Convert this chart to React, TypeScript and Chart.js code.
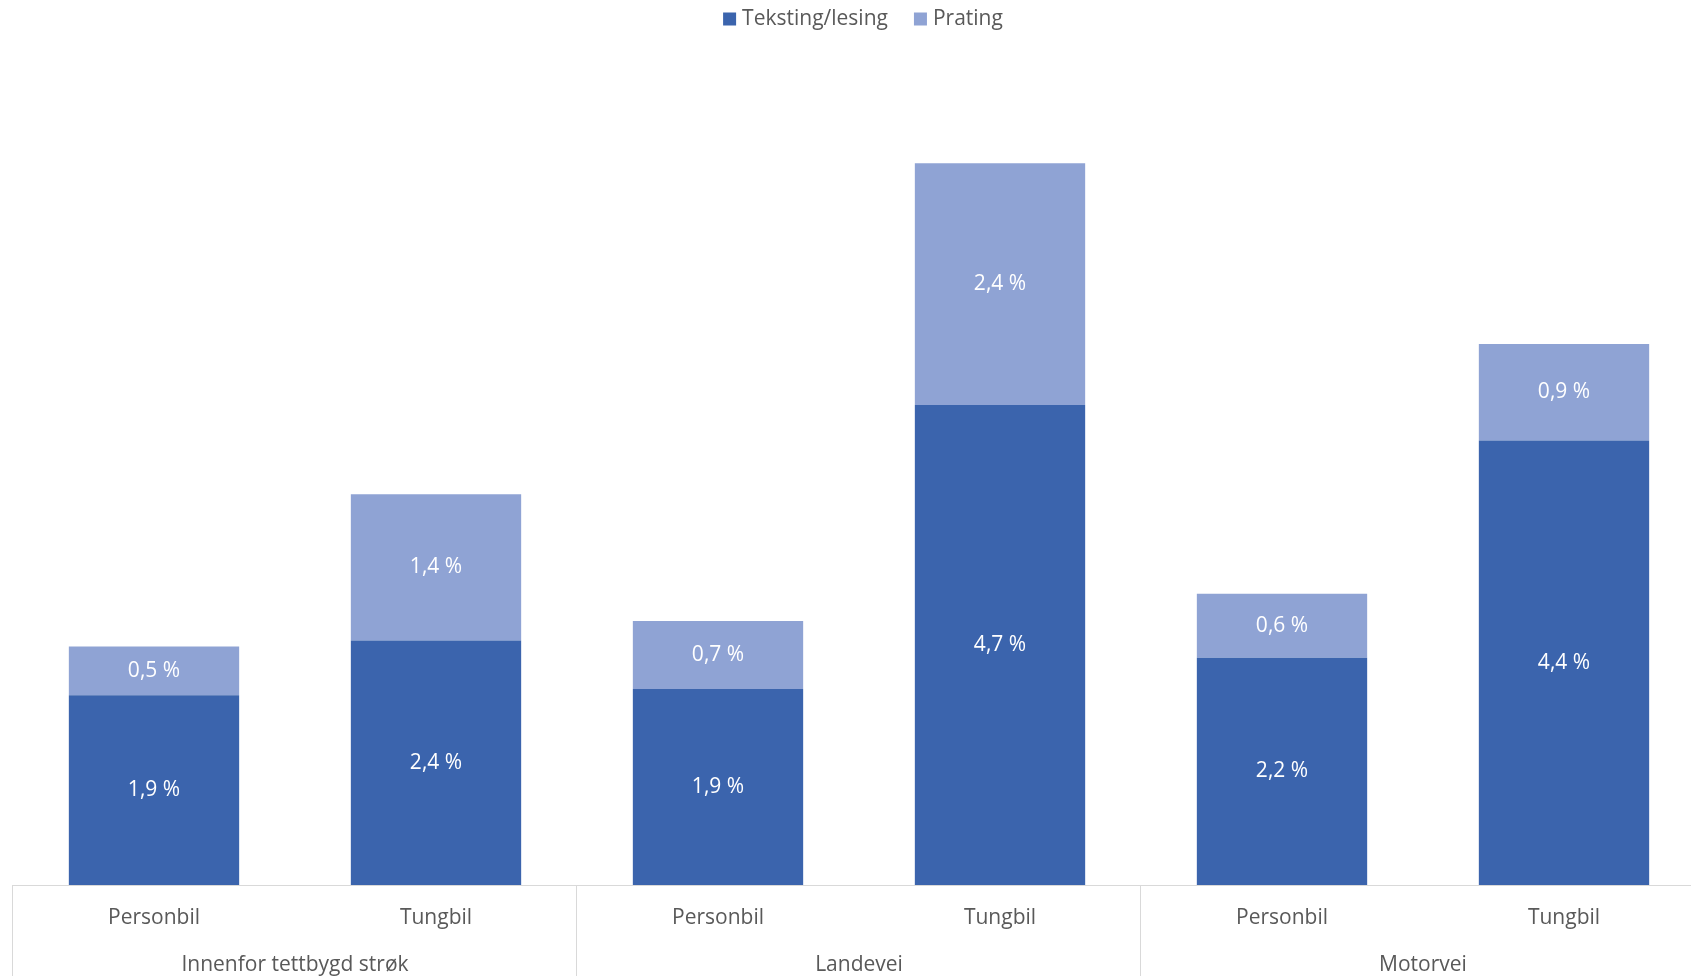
import React, { useEffect, useRef } from "react";
import { Chart, registerables } from "chart.js";

Chart.register(...registerables);

const categories = ["Personbil", "Tungbil", "Personbil", "Tungbil", "Personbil", "Tungbil"];
const groups = ["Innenfor tettbygd strøk", "Landevei", "Motorvei"];
const seriesNames = ["Teksting/lesing", "Prating"];
const teksting = [1.87, 2.41, 1.93, 4.73, 2.24, 4.38];
const prating = [0.48, 1.44, 0.67, 2.38, 0.63, 0.949];
const colors = ["#3B64AD", "#8FA3D4"];

const FONT = "'Open Sans', sans-serif";

const fmt = (v: number) => v.toFixed(1).replace(".", ",") + " %";

const valueLabels = {
  id: "valueLabels",
  afterDatasetsDraw(chart: any) {
    const ctx = chart.ctx;
    ctx.save();
    ctx.fillStyle = "#FFFFFF";
    ctx.font = `21px ${FONT}`;
    ctx.textAlign = "center";
    ctx.textBaseline = "middle";
    chart.data.datasets.forEach((ds: any, i: number) => {
      const meta = chart.getDatasetMeta(i);
      meta.data.forEach((el: any, j: number) => {
        const v = ds.data[j];
        const y = (el.y + el.base) / 2;
        ctx.fillText(fmt(v), el.x, y);
      });
    });
    ctx.restore();
  },
};

const customLegend = {
  id: "customLegend",
  afterDraw(chart: any) {
    const ctx = chart.ctx;
    ctx.save();
    ctx.font = `21px ${FONT}`;
    ctx.textBaseline = "middle";
    ctx.textAlign = "left";
    const box = 13;
    const boxGap = 6;
    const itemGap = 26;
    const items = chart.data.datasets.map((ds: any) => ({
      label: ds.label,
      color: ds.backgroundColor,
      w: ctx.measureText(ds.label).width,
    }));
    const total = items.reduce((s: number, it: any) => s + box + boxGap + it.w, 0) + itemGap * (items.length - 1);
    let x = 863 - total / 2;
    const cy = 19;
    items.forEach((it: any) => {
      ctx.fillStyle = it.color;
      ctx.fillRect(x, cy - box / 2, box, box);
      ctx.fillStyle = "#595959";
      ctx.fillText(it.label, x + box + boxGap, cy);
      x += box + boxGap + it.w + itemGap;
    });
    ctx.restore();
  },
};

const groupAxis = {
  id: "groupAxis",
  afterDraw(chart: any) {
    const ctx = chart.ctx;
    const xs = chart.scales.x;
    const area = chart.chartArea;
    const half = (xs.getPixelForValue(1) - xs.getPixelForValue(0)) / 2;
    ctx.save();
    ctx.strokeStyle = "#D9D9D9";
    ctx.lineWidth = 1;
    ctx.beginPath();
    ctx.moveTo(area.left - 1, Math.round(area.bottom) + 0.5);
    ctx.lineTo(chart.width, Math.round(area.bottom) + 0.5);
    ctx.stroke();
    for (let g = 0; g <= groups.length; g++) {
      const px = Math.round(xs.getPixelForValue(2 * g) - half) - 0.5;
      ctx.beginPath();
      ctx.moveTo(px, area.bottom);
      ctx.lineTo(px, chart.height);
      ctx.stroke();
    }
    ctx.fillStyle = "#595959";
    ctx.font = `21px ${FONT}`;
    ctx.textAlign = "center";
    ctx.textBaseline = "middle";
    groups.forEach((name, g) => {
      const cx = (xs.getPixelForValue(2 * g) + xs.getPixelForValue(2 * g + 1)) / 2;
      ctx.fillText(name, cx, area.bottom + 80);
    });
    ctx.restore();
  },
};

export default function App() {
  const ref = useRef<HTMLCanvasElement>(null);
  useEffect(() => {
    if (!ref.current) return;
    const chart = new Chart(ref.current, {
      type: "bar",
      data: {
        labels: categories,
        datasets: [
          {
            label: seriesNames[0],
            data: teksting,
            backgroundColor: colors[0],
            borderWidth: 0,
            categoryPercentage: 1,
            barPercentage: 0.604,
          },
          {
            label: seriesNames[1],
            data: prating,
            backgroundColor: colors[1],
            borderWidth: 0,
            categoryPercentage: 1,
            barPercentage: 0.604,
          },
        ],
      },
      options: {
        responsive: false,
        animation: false,
        devicePixelRatio: 1,
        layout: { padding: { left: 13, right: 15, top: 73, bottom: 0 } },
        plugins: {
          legend: { display: false },
          tooltip: { enabled: false },
        },
        scales: {
          x: {
            stacked: true,
            grid: { display: false },
            border: { display: false },
            ticks: {
              color: "#595959",
              font: { family: FONT, size: 21 },
              padding: 12,
              maxRotation: 0,
              autoSkip: false,
            },
            afterFit(scale: any) {
              scale.height = 91;
            },
          },
          y: {
            stacked: true,
            display: false,
            min: 0,
            max: 8,
          },
        },
      },
      plugins: [valueLabels, groupAxis, customLegend],
    });
    return () => chart.destroy();
  }, []);
  return (
    <div
      style={{
        position: "fixed",
        left: 0,
        top: 0,
        width: "1691px",
        height: "976px",
        overflow: "hidden",
        background: "#FFFFFF",
      }}
    >
      <canvas ref={ref} width={1720} height={976} style={{ display: "block" }} />
    </div>
  );
}
